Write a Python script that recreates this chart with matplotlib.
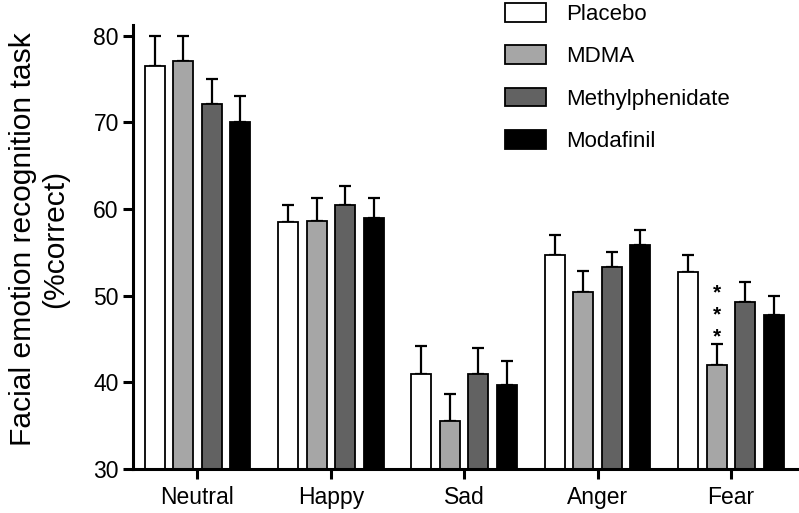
import numpy as np
import matplotlib.pyplot as plt
from matplotlib.patches import Patch

plt.rcParams['font.family'] = ['Liberation Sans', 'DejaVu Sans']

emotions = ['Neutral', 'Happy', 'Sad', 'Anger', 'Fear']
drugs = ['Placebo', 'MDMA', 'Methylphenidate', 'Modafinil']
colors = ['white', '#a6a6a6', '#626262', 'black']

# mean % correct and SEM per drug (rows) x emotion (cols)
means = {
    'Placebo':         [76.5, 58.5, 41.0, 54.7, 52.7],
    'MDMA':            [77.1, 58.6, 35.5, 50.4, 42.0],
    'Methylphenidate': [72.1, 60.5, 41.0, 53.3, 49.3],
    'Modafinil':       [70.1, 59.0, 39.7, 55.8, 47.8],
}
sems = {
    'Placebo':         [3.5, 2.0, 3.2, 2.3, 2.0],
    'MDMA':            [2.9, 2.7, 3.1, 2.4, 2.4],
    'Methylphenidate': [2.9, 2.2, 3.0, 1.8, 2.3],
    'Modafinil':       [3.0, 2.3, 2.7, 1.8, 2.2],
}
# significance marker: (drug, emotion, label)
sig = [('MDMA', 'Fear', '*\n*\n*')]

fig = plt.figure(figsize=(7.99, 5.13), dpi=100)
ax = fig.add_axes([0.167, 0.086, 0.833, 0.866])

x = np.arange(len(emotions))
pitch = 0.214
width = 0.15
offsets = (np.arange(len(drugs)) - 1.5) * pitch

for i, d in enumerate(drugs):
    xs = x + offsets[i]
    m = np.array(means[d])
    e = np.array(sems[d])
    ax.bar(xs, m - 30, bottom=30, width=width, color=colors[i],
           edgecolor='black', linewidth=1.3, zorder=2)
    ax.errorbar(xs, m, yerr=[np.zeros_like(e), e], fmt='none',
                ecolor='black', elinewidth=1.6, capsize=4, capthick=1.6,
                zorder=1)

for d, emo, label in sig:
    i = drugs.index(d)
    j = emotions.index(emo)
    top = means[d][j] + sems[d][j]
    ax.text(x[j] + offsets[i], top - 0.2, label, ha='center', va='bottom',
            fontsize=15, fontweight='bold', linespacing=1.2)

ax.set_xlim(-0.48, 4.51)
ax.set_ylim(30, 81.3)
ax.set_yticks([30, 40, 50, 60, 70, 80])
ax.set_xticks(x)
ax.set_xticklabels(emotions, fontsize=16.5)
ax.tick_params(axis='y', labelsize=16.5, length=7, width=2.2, direction='out')
ax.tick_params(axis='x', length=7, width=2.2, direction='out', pad=5)
ax.set_ylabel('Facial emotion recognition task\n(%correct)', fontsize=21.6,
              linespacing=1.2)
ax.yaxis.set_label_coords(-0.096, 0.518)

for s in ['top', 'right']:
    ax.spines[s].set_visible(False)
for s in ['left', 'bottom']:
    ax.spines[s].set_linewidth(2.2)

handles = [Patch(facecolor=c, edgecolor='black', linewidth=1.3) for c in colors]
fig.legend(handles, drugs, loc='upper left', bbox_to_anchor=(0.607, 1.033),
           frameon=False, fontsize=16, handlelength=1.85, handleheight=0.9,
           labelspacing=0.92, handletextpad=0.9)

fig.savefig('out.png', dpi=100)
